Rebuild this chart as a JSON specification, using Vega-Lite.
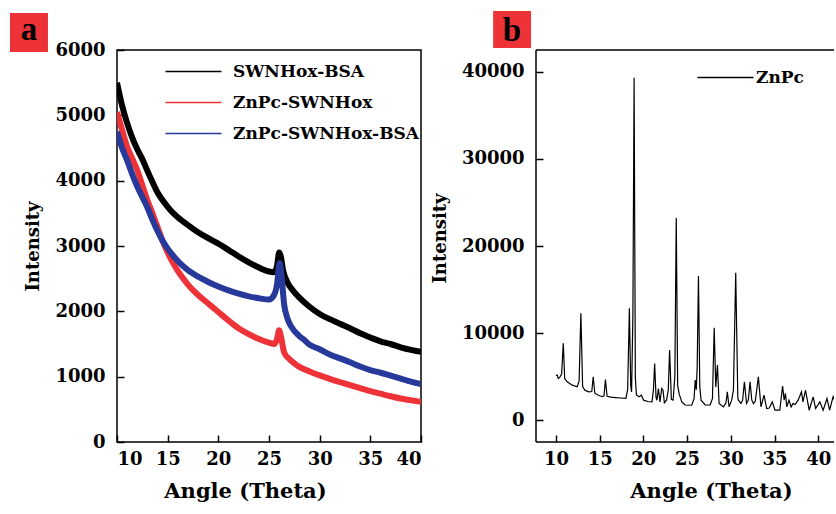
{
  "$schema": "https://vega.github.io/schema/vega-lite/v6.json",
  "padding": {"left": 9, "top": 11, "right": 0, "bottom": 0},
  "background": "white",
  "config": {
    "view": {"stroke": null},
    "axis": {
      "labelFont": "DejaVu Serif", "labelFontWeight": "bold", "labelFontSize": 18, "labelColor": "black",
      "titleFont": "DejaVu Serif", "titleFontWeight": "bold", "titleColor": "black",
      "domain": false, "grid": false, "ticks": true, "tickSize": 7, "tickColor": "#000000", "tickWidth": 1.5, "offset": -7
    },
    "legend": {
      "orient": "none", "symbolType": "M-4,0H4", "symbolSize": 196, "symbolStrokeWidth": 1.3,
      "labelFont": "DejaVu Serif", "labelFontWeight": "bold", "labelFontSize": 17, "labelColor": "black",
      "title": null, "padding": 0, "rowPadding": 13, "labelLimit": 0
    }
  },
  "spacing": 8,
  "resolve": {"scale": {"color": "independent"}, "legend": {"color": "independent"}},
  "hconcat": [
    {
      "width": 304, "height": 392,
      "view": {"stroke": "black", "strokeWidth": 1.5},
      "layer": [
        {
          "data": {"values": [
            {"sample":"SWNHox-BSA","angle":10,"intensity":5500},{"sample":"SWNHox-BSA","angle":10.5,"intensity":5150},{"sample":"SWNHox-BSA","angle":11,"intensity":4880},{"sample":"SWNHox-BSA","angle":11.5,"intensity":4660},{"sample":"SWNHox-BSA","angle":12,"intensity":4480},{"sample":"SWNHox-BSA","angle":12.5,"intensity":4330},{"sample":"SWNHox-BSA","angle":13,"intensity":4150},{"sample":"SWNHox-BSA","angle":13.5,"intensity":3980},{"sample":"SWNHox-BSA","angle":14,"intensity":3820},{"sample":"SWNHox-BSA","angle":14.5,"intensity":3700},{"sample":"SWNHox-BSA","angle":15,"intensity":3600},{"sample":"SWNHox-BSA","angle":15.5,"intensity":3510},{"sample":"SWNHox-BSA","angle":16,"intensity":3440},{"sample":"SWNHox-BSA","angle":17,"intensity":3320},{"sample":"SWNHox-BSA","angle":18,"intensity":3210},{"sample":"SWNHox-BSA","angle":19,"intensity":3120},{"sample":"SWNHox-BSA","angle":20,"intensity":3035},{"sample":"SWNHox-BSA","angle":21,"intensity":2940},{"sample":"SWNHox-BSA","angle":22,"intensity":2840},{"sample":"SWNHox-BSA","angle":23,"intensity":2750},{"sample":"SWNHox-BSA","angle":24,"intensity":2670},{"sample":"SWNHox-BSA","angle":25,"intensity":2610},{"sample":"SWNHox-BSA","angle":25.5,"intensity":2600},{"sample":"SWNHox-BSA","angle":25.8,"intensity":2700},{"sample":"SWNHox-BSA","angle":26.0,"intensity":2900},{"sample":"SWNHox-BSA","angle":26.15,"intensity":2850},{"sample":"SWNHox-BSA","angle":26.4,"intensity":2620},{"sample":"SWNHox-BSA","angle":26.8,"intensity":2450},{"sample":"SWNHox-BSA","angle":27.3,"intensity":2330},{"sample":"SWNHox-BSA","angle":28,"intensity":2210},{"sample":"SWNHox-BSA","angle":29,"intensity":2070},{"sample":"SWNHox-BSA","angle":30,"intensity":1960},{"sample":"SWNHox-BSA","angle":31,"intensity":1880},{"sample":"SWNHox-BSA","angle":32,"intensity":1810},{"sample":"SWNHox-BSA","angle":33,"intensity":1740},{"sample":"SWNHox-BSA","angle":34,"intensity":1665},{"sample":"SWNHox-BSA","angle":35,"intensity":1600},{"sample":"SWNHox-BSA","angle":36,"intensity":1540},{"sample":"SWNHox-BSA","angle":37,"intensity":1500},{"sample":"SWNHox-BSA","angle":38,"intensity":1450},{"sample":"SWNHox-BSA","angle":39,"intensity":1410},{"sample":"SWNHox-BSA","angle":40,"intensity":1380},
            {"sample":"ZnPc-SWNHox","angle":10,"intensity":5050},{"sample":"ZnPc-SWNHox","angle":10.5,"intensity":4780},{"sample":"ZnPc-SWNHox","angle":11,"intensity":4520},{"sample":"ZnPc-SWNHox","angle":11.5,"intensity":4340},{"sample":"ZnPc-SWNHox","angle":12,"intensity":4160},{"sample":"ZnPc-SWNHox","angle":12.5,"intensity":3930},{"sample":"ZnPc-SWNHox","angle":13,"intensity":3700},{"sample":"ZnPc-SWNHox","angle":13.5,"intensity":3500},{"sample":"ZnPc-SWNHox","angle":14,"intensity":3290},{"sample":"ZnPc-SWNHox","angle":14.5,"intensity":3080},{"sample":"ZnPc-SWNHox","angle":15,"intensity":2900},{"sample":"ZnPc-SWNHox","angle":15.5,"intensity":2750},{"sample":"ZnPc-SWNHox","angle":16,"intensity":2620},{"sample":"ZnPc-SWNHox","angle":16.5,"intensity":2510},{"sample":"ZnPc-SWNHox","angle":17,"intensity":2410},{"sample":"ZnPc-SWNHox","angle":18,"intensity":2250},{"sample":"ZnPc-SWNHox","angle":19,"intensity":2120},{"sample":"ZnPc-SWNHox","angle":20,"intensity":1990},{"sample":"ZnPc-SWNHox","angle":21,"intensity":1860},{"sample":"ZnPc-SWNHox","angle":22,"intensity":1740},{"sample":"ZnPc-SWNHox","angle":23,"intensity":1650},{"sample":"ZnPc-SWNHox","angle":24,"intensity":1575},{"sample":"ZnPc-SWNHox","angle":25,"intensity":1520},{"sample":"ZnPc-SWNHox","angle":25.5,"intensity":1500},{"sample":"ZnPc-SWNHox","angle":25.8,"intensity":1580},{"sample":"ZnPc-SWNHox","angle":26.0,"intensity":1710},{"sample":"ZnPc-SWNHox","angle":26.2,"intensity":1600},{"sample":"ZnPc-SWNHox","angle":26.5,"intensity":1370},{"sample":"ZnPc-SWNHox","angle":27,"intensity":1270},{"sample":"ZnPc-SWNHox","angle":27.5,"intensity":1205},{"sample":"ZnPc-SWNHox","angle":28,"intensity":1150},{"sample":"ZnPc-SWNHox","angle":29,"intensity":1080},{"sample":"ZnPc-SWNHox","angle":30,"intensity":1020},{"sample":"ZnPc-SWNHox","angle":31,"intensity":965},{"sample":"ZnPc-SWNHox","angle":32,"intensity":915},{"sample":"ZnPc-SWNHox","angle":33,"intensity":870},{"sample":"ZnPc-SWNHox","angle":34,"intensity":825},{"sample":"ZnPc-SWNHox","angle":35,"intensity":780},{"sample":"ZnPc-SWNHox","angle":36,"intensity":740},{"sample":"ZnPc-SWNHox","angle":37,"intensity":700},{"sample":"ZnPc-SWNHox","angle":38,"intensity":665},{"sample":"ZnPc-SWNHox","angle":39,"intensity":640},{"sample":"ZnPc-SWNHox","angle":40,"intensity":615},
            {"sample":"ZnPc-SWNHox-BSA","angle":10,"intensity":4750},{"sample":"ZnPc-SWNHox-BSA","angle":10.5,"intensity":4500},{"sample":"ZnPc-SWNHox-BSA","angle":11,"intensity":4310},{"sample":"ZnPc-SWNHox-BSA","angle":11.5,"intensity":4100},{"sample":"ZnPc-SWNHox-BSA","angle":12,"intensity":3910},{"sample":"ZnPc-SWNHox-BSA","angle":12.5,"intensity":3750},{"sample":"ZnPc-SWNHox-BSA","angle":13,"intensity":3590},{"sample":"ZnPc-SWNHox-BSA","angle":13.5,"intensity":3400},{"sample":"ZnPc-SWNHox-BSA","angle":14,"intensity":3230},{"sample":"ZnPc-SWNHox-BSA","angle":14.5,"intensity":3080},{"sample":"ZnPc-SWNHox-BSA","angle":15,"intensity":2960},{"sample":"ZnPc-SWNHox-BSA","angle":15.5,"intensity":2860},{"sample":"ZnPc-SWNHox-BSA","angle":16,"intensity":2770},{"sample":"ZnPc-SWNHox-BSA","angle":17,"intensity":2630},{"sample":"ZnPc-SWNHox-BSA","angle":18,"intensity":2530},{"sample":"ZnPc-SWNHox-BSA","angle":19,"intensity":2450},{"sample":"ZnPc-SWNHox-BSA","angle":20,"intensity":2380},{"sample":"ZnPc-SWNHox-BSA","angle":21,"intensity":2320},{"sample":"ZnPc-SWNHox-BSA","angle":22,"intensity":2270},{"sample":"ZnPc-SWNHox-BSA","angle":23,"intensity":2230},{"sample":"ZnPc-SWNHox-BSA","angle":24,"intensity":2200},{"sample":"ZnPc-SWNHox-BSA","angle":25,"intensity":2180},{"sample":"ZnPc-SWNHox-BSA","angle":25.5,"intensity":2250},{"sample":"ZnPc-SWNHox-BSA","angle":25.8,"intensity":2420},{"sample":"ZnPc-SWNHox-BSA","angle":26.05,"intensity":2740},{"sample":"ZnPc-SWNHox-BSA","angle":26.2,"intensity":2600},{"sample":"ZnPc-SWNHox-BSA","angle":26.5,"intensity":2100},{"sample":"ZnPc-SWNHox-BSA","angle":26.8,"intensity":1900},{"sample":"ZnPc-SWNHox-BSA","angle":27.2,"intensity":1765},{"sample":"ZnPc-SWNHox-BSA","angle":28,"intensity":1620},{"sample":"ZnPc-SWNHox-BSA","angle":28.5,"intensity":1560},{"sample":"ZnPc-SWNHox-BSA","angle":29,"intensity":1490},{"sample":"ZnPc-SWNHox-BSA","angle":30,"intensity":1420},{"sample":"ZnPc-SWNHox-BSA","angle":31,"intensity":1340},{"sample":"ZnPc-SWNHox-BSA","angle":32,"intensity":1280},{"sample":"ZnPc-SWNHox-BSA","angle":33,"intensity":1220},{"sample":"ZnPc-SWNHox-BSA","angle":34,"intensity":1155},{"sample":"ZnPc-SWNHox-BSA","angle":35,"intensity":1100},{"sample":"ZnPc-SWNHox-BSA","angle":36,"intensity":1060},{"sample":"ZnPc-SWNHox-BSA","angle":37,"intensity":1015},{"sample":"ZnPc-SWNHox-BSA","angle":38,"intensity":970},{"sample":"ZnPc-SWNHox-BSA","angle":39,"intensity":925},{"sample":"ZnPc-SWNHox-BSA","angle":40,"intensity":885}
          ]},
          "mark": {"type": "line", "strokeWidth": 6, "clip": true, "interpolate": "monotone"},
          "encoding": {
            "x": {"field": "angle", "type": "quantitative",
              "scale": {"domain": [10, 40], "nice": false, "zero": false},
              "axis": {"values": [10,15,20,25,30,35,40], "format": "d",
                "labelPadding": 8, "title": "Angle (Theta)", "titleFontSize": 21, "titlePadding": 12, "titleX": 128, "titleAlign": "center"}},
            "y": {"field": "intensity", "type": "quantitative",
              "scale": {"domain": [0, 6000], "nice": false},
              "axis": {"values": [0,1000,2000,3000,4000,5000,6000], "format": "d",
                "labelPadding": 12, "title": "Intensity", "titleFontSize": 18, "titlePadding": 12}},
            "color": {"field": "sample", "type": "nominal",
              "scale": {"domain": ["SWNHox-BSA", "ZnPc-SWNHox", "ZnPc-SWNHox-BSA"], "range": ["#000000", "#EE3338", "#27399A"]},
              "legend": {"legendX": 68, "legendY": 13, "labelOffset": 31}}
          }
        },
        {
          "data": {"values": [{"tag": "a"}]},
          "mark": {"type": "rect", "color": "#EE3338", "clip": false},
          "encoding": {"x": {"datum": -0.56}, "x2": {"datum": 3.19}, "y": {"datum": 6566}, "y2": {"datum": 5969}}
        },
        {
          "data": {"values": [{"tag": "a"}]},
          "mark": {"type": "text", "font": "Liberation Serif", "fontWeight": "bold", "fontSize": 33, "color": "black", "baseline": "alphabetic", "align": "center", "clip": false},
          "encoding": {"x": {"datum": 1.32}, "y": {"datum": 6153}, "text": {"field": "tag"}}
        }
      ]
    },
    {
      "width": 298, "height": 392,
      "layer": [
        {
          "data": {"values": [
            {"sample":"ZnPc","angle":10.0,"intensity":5150},{"sample":"ZnPc","angle":10.15,"intensity":5175},{"sample":"ZnPc","angle":10.27,"intensity":4790},{"sample":"ZnPc","angle":10.45,"intensity":4950},{"sample":"ZnPc","angle":10.65,"intensity":5300},{"sample":"ZnPc","angle":10.84,"intensity":8820},{"sample":"ZnPc","angle":11.0,"intensity":4790},{"sample":"ZnPc","angle":11.29,"intensity":4405},{"sample":"ZnPc","angle":11.86,"intensity":4025},{"sample":"ZnPc","angle":12.43,"intensity":3830},{"sample":"ZnPc","angle":12.65,"intensity":4500},{"sample":"ZnPc","angle":12.85,"intensity":12270},{"sample":"ZnPc","angle":13.05,"intensity":3900},{"sample":"ZnPc","angle":13.3,"intensity":3450},{"sample":"ZnPc","angle":13.76,"intensity":3255},{"sample":"ZnPc","angle":14.1,"intensity":3300},{"sample":"ZnPc","angle":14.26,"intensity":4980},{"sample":"ZnPc","angle":14.45,"intensity":3100},{"sample":"ZnPc","angle":14.8,"intensity":2900},{"sample":"ZnPc","angle":15.28,"intensity":2700},{"sample":"ZnPc","angle":15.5,"intensity":2800},{"sample":"ZnPc","angle":15.66,"intensity":4680},{"sample":"ZnPc","angle":15.85,"intensity":2750},{"sample":"ZnPc","angle":16.3,"intensity":2650},{"sample":"ZnPc","angle":16.8,"intensity":2600},{"sample":"ZnPc","angle":17.4,"intensity":2550},{"sample":"ZnPc","angle":18.0,"intensity":2500},{"sample":"ZnPc","angle":18.2,"intensity":3500},{"sample":"ZnPc","angle":18.4,"intensity":12840},{"sample":"ZnPc","angle":18.55,"intensity":4000},{"sample":"ZnPc","angle":18.65,"intensity":3250},{"sample":"ZnPc","angle":18.8,"intensity":12000},{"sample":"ZnPc","angle":18.94,"intensity":39300},{"sample":"ZnPc","angle":19.08,"intensity":5000},{"sample":"ZnPc","angle":19.2,"intensity":2900},{"sample":"ZnPc","angle":19.5,"intensity":2700},{"sample":"ZnPc","angle":19.77,"intensity":2870},{"sample":"ZnPc","angle":20.03,"intensity":2300},{"sample":"ZnPc","angle":20.5,"intensity":2150},{"sample":"ZnPc","angle":20.99,"intensity":2100},{"sample":"ZnPc","angle":21.15,"intensity":3500},{"sample":"ZnPc","angle":21.29,"intensity":6520},{"sample":"ZnPc","angle":21.45,"intensity":2600},{"sample":"ZnPc","angle":21.55,"intensity":2300},{"sample":"ZnPc","angle":21.72,"intensity":3645},{"sample":"ZnPc","angle":21.9,"intensity":2100},{"sample":"ZnPc","angle":22.1,"intensity":3645},{"sample":"ZnPc","angle":22.25,"intensity":3450},{"sample":"ZnPc","angle":22.4,"intensity":2000},{"sample":"ZnPc","angle":22.65,"intensity":2300},{"sample":"ZnPc","angle":22.85,"intensity":3500},{"sample":"ZnPc","angle":23.0,"intensity":8050},{"sample":"ZnPc","angle":23.2,"intensity":2400},{"sample":"ZnPc","angle":23.4,"intensity":2300},{"sample":"ZnPc","angle":23.6,"intensity":5000},{"sample":"ZnPc","angle":23.76,"intensity":23200},{"sample":"ZnPc","angle":23.92,"intensity":4000},{"sample":"ZnPc","angle":24.1,"intensity":3000},{"sample":"ZnPc","angle":24.4,"intensity":2100},{"sample":"ZnPc","angle":24.78,"intensity":1750},{"sample":"ZnPc","angle":25.2,"intensity":1720},{"sample":"ZnPc","angle":25.54,"intensity":1750},{"sample":"ZnPc","angle":25.8,"intensity":2500},{"sample":"ZnPc","angle":25.93,"intensity":4600},{"sample":"ZnPc","angle":26.05,"intensity":3500},{"sample":"ZnPc","angle":26.15,"intensity":6000},{"sample":"ZnPc","angle":26.3,"intensity":16560},{"sample":"ZnPc","angle":26.45,"intensity":3830},{"sample":"ZnPc","angle":26.6,"intensity":2300},{"sample":"ZnPc","angle":27.07,"intensity":1750},{"sample":"ZnPc","angle":27.64,"intensity":1750},{"sample":"ZnPc","angle":27.9,"intensity":2500},{"sample":"ZnPc","angle":28.1,"intensity":10610},{"sample":"ZnPc","angle":28.28,"intensity":3830},{"sample":"ZnPc","angle":28.47,"intensity":6325},{"sample":"ZnPc","angle":28.66,"intensity":1920},{"sample":"ZnPc","angle":29.16,"intensity":1530},{"sample":"ZnPc","angle":29.45,"intensity":2000},{"sample":"ZnPc","angle":29.6,"intensity":3255},{"sample":"ZnPc","angle":29.8,"intensity":1530},{"sample":"ZnPc","angle":30.1,"intensity":2300},{"sample":"ZnPc","angle":30.3,"intensity":3500},{"sample":"ZnPc","angle":30.56,"intensity":16940},{"sample":"ZnPc","angle":30.8,"intensity":2600},{"sample":"ZnPc","angle":30.87,"intensity":2300},{"sample":"ZnPc","angle":31.17,"intensity":1920},{"sample":"ZnPc","angle":31.35,"intensity":2300},{"sample":"ZnPc","angle":31.55,"intensity":4405},{"sample":"ZnPc","angle":31.8,"intensity":1920},{"sample":"ZnPc","angle":32.0,"intensity":2300},{"sample":"ZnPc","angle":32.2,"intensity":4405},{"sample":"ZnPc","angle":32.4,"intensity":2300},{"sample":"ZnPc","angle":32.6,"intensity":1920},{"sample":"ZnPc","angle":32.8,"intensity":2200},{"sample":"ZnPc","angle":33.15,"intensity":4980},{"sample":"ZnPc","angle":33.45,"intensity":1530},{"sample":"ZnPc","angle":33.8,"intensity":2875},{"sample":"ZnPc","angle":34.1,"intensity":1345},{"sample":"ZnPc","angle":34.4,"intensity":1400},{"sample":"ZnPc","angle":34.74,"intensity":2105},{"sample":"ZnPc","angle":35.05,"intensity":1150},{"sample":"ZnPc","angle":35.6,"intensity":1150},{"sample":"ZnPc","angle":35.92,"intensity":3910},{"sample":"ZnPc","angle":36.1,"intensity":2300},{"sample":"ZnPc","angle":36.25,"intensity":3070},{"sample":"ZnPc","angle":36.4,"intensity":1530},{"sample":"ZnPc","angle":36.65,"intensity":2300},{"sample":"ZnPc","angle":36.9,"intensity":1530},{"sample":"ZnPc","angle":37.1,"intensity":1920},{"sample":"ZnPc","angle":37.35,"intensity":1800},{"sample":"ZnPc","angle":37.7,"intensity":2300},{"sample":"ZnPc","angle":38.08,"intensity":3255},{"sample":"ZnPc","angle":38.25,"intensity":2100},{"sample":"ZnPc","angle":38.54,"intensity":3450},{"sample":"ZnPc","angle":38.75,"intensity":2300},{"sample":"ZnPc","angle":38.96,"intensity":1150},{"sample":"ZnPc","angle":39.42,"intensity":2680},{"sample":"ZnPc","angle":39.7,"intensity":1345},{"sample":"ZnPc","angle":40.18,"intensity":2105},{"sample":"ZnPc","angle":40.56,"intensity":1150},{"sample":"ZnPc","angle":41.0,"intensity":2490},{"sample":"ZnPc","angle":41.3,"intensity":1150},{"sample":"ZnPc","angle":41.7,"intensity":2700},{"sample":"ZnPc","angle":42.0,"intensity":2000}
          ]},
          "mark": {"type": "line", "strokeWidth": 1.2, "clip": true},
          "encoding": {
            "x": {"field": "angle", "type": "quantitative",
              "scale": {"domain": [7.72, 41.8], "nice": false, "zero": false},
              "axis": {"values": [10,15,20,25,30,35,40], "format": "d",
                "labelPadding": 8, "title": "Angle (Theta)", "titleFontSize": 21, "titlePadding": 12, "titleX": 175, "titleAlign": "center"}},
            "y": {"field": "intensity", "type": "quantitative",
              "scale": {"domain": [-2500, 42500], "nice": false, "zero": false},
              "axis": {"values": [0,10000,20000,30000,40000], "format": "d",
                "labelPadding": 12, "title": "Intensity", "titleFontSize": 18, "titlePadding": 12, "titleY": 188, "titleAlign": "center"}},
            "color": {"field": "sample", "type": "nominal",
              "scale": {"domain": ["ZnPc"], "range": ["#000000"]},
              "legend": {"legendX": 181, "legendY": 19, "labelOffset": 22}}
          }
        },
        {
          "data": {"values": [{"edge": "top"}]},
          "mark": {"type": "rule", "color": "black", "strokeWidth": 1.5},
          "encoding": {"y": {"datum": 42500}}
        },
        {
          "data": {"values": [{"edge": "bottom"}]},
          "mark": {"type": "rule", "color": "black", "strokeWidth": 1.5},
          "encoding": {"y": {"datum": -2500}}
        },
        {
          "data": {"values": [{"edge": "left"}]},
          "mark": {"type": "rule", "color": "black", "strokeWidth": 1.5},
          "encoding": {"x": {"datum": 7.72}}
        },
        {
          "data": {"values": [{"tag": "b"}]},
          "mark": {"type": "rect", "color": "#EE3338", "clip": false},
          "encoding": {"x": {"datum": 2.82}, "x2": {"datum": 7.15}, "y": {"datum": 46977}, "y2": {"datum": 42730}}
        },
        {
          "data": {"values": [{"tag": "b"}]},
          "mark": {"type": "text", "font": "Liberation Serif", "fontWeight": "bold", "fontSize": 33, "color": "black", "baseline": "alphabetic", "align": "center", "clip": false},
          "encoding": {"x": {"datum": 4.98}, "y": {"datum": 43533}, "text": {"field": "tag"}}
        }
      ]
    }
  ]
}
